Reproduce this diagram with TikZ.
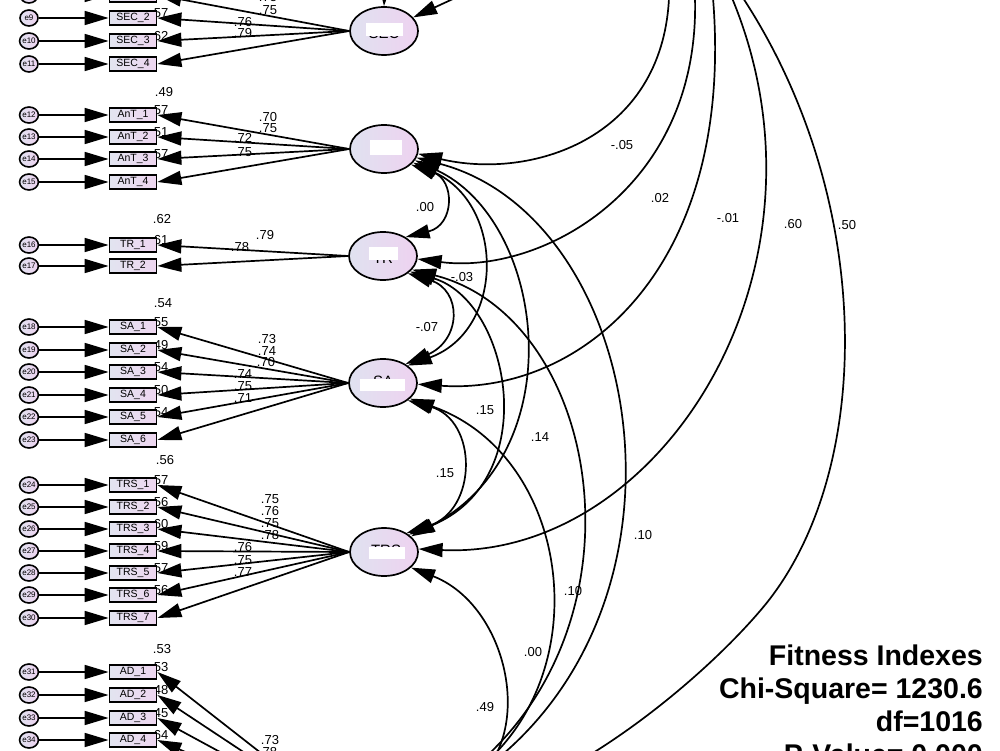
\documentclass[tikz,border=0pt]{standalone}
\usepackage{fontspec}
\setmainfont{Liberation Sans}
\usetikzlibrary{arrows.meta,shapes.geometric}
\definecolor{latL}{RGB}{224,226,240}
\definecolor{latR}{RGB}{238,210,240}
\definecolor{boxL}{RGB}{226,228,240}
\definecolor{boxR}{RGB}{238,214,240}
\begin{document}
\begin{tikzpicture}[x=1pt,y=-1pt,
  lat/.style={ellipse,draw=black,line width=1.7pt,left color=latL,right color=latR,minimum width=68pt,minimum height=48pt,inner sep=0pt},
  lattext/.style={font=\fontsize{15}{15}\selectfont,inner sep=0pt},
  obs/.style={rectangle,draw=black,line width=1.8pt,left color=boxL,right color=boxR,minimum width=47pt,minimum height=14pt,inner sep=0pt,font=\fontsize{10.5}{10.5}\selectfont},
  err/.style={ellipse,draw=black,line width=1.6pt,left color=latL,right color=latR,minimum width=18pt,minimum height=16pt,inner sep=0pt,font=\fontsize{8}{8}\selectfont},
  arr/.style={line width=1.7pt,-{Triangle[length=24pt,width=14pt]}},
  cov/.style={line width=1.7pt,{Triangle[length=24pt,width=14pt]}-{Triangle[length=24pt,width=14pt]}},
  num/.style={font=\fontsize{13}{13}\selectfont,inner sep=0pt},
  rsq/.style={num,anchor=west},
  fit/.style={font=\bfseries\fontsize{28.5}{28.5}\selectfont,inner sep=0pt,anchor=base east}
]
\useasboundingbox (0,0) rectangle (1000,751);
\fill[white] (0,0) rectangle (1000,751);

% latents
\node[lat] (SEC) at (384,31) {};
\node[lat] (AnT) at (384,149) {};
\node[lat] (TR) at (383,256) {};
\node[lat] (SA) at (383,383) {};
\node[lat] (TRS) at (384,552) {};
\node[lat] (AD) at (384,822) {};
\node[lattext] (tSEC) at (384,33) {SEC};
\node[lattext] (tAnT) at (385,148) {AnT};
\node[lattext] (tTR) at (383,258) {TR};
\node[lattext] (tSA) at (383,381) {SA};
\node[lattext] (tTRS) at (386,550) {TRS};

% r-square labels (drawn before arrows)
\foreach \y/\r in {18/.57,41/.62,115/.57,137/.51,159/.57,245/.61,327/.55,350/.49,372/.54,395/.50,417/.54,485/.57,507/.56,529/.60,551/.59,573/.57,595/.56,672/.53,695/.48,718/.45,740/.64}
  \node[rsq] at (150,\y-5) {\r};
\node[num] (h1) at (164,92) {.49};
\node[num] (h2) at (162,219) {.62};
\node[num] (h3) at (163,303) {.54};
\node[num] (h4) at (165,460) {.56};
\node[num] (h5) at (162,649) {.53};

% indicators and errors
\foreach \n/\t/\y in {8/SEC\_1/-5,9/SEC\_2/18,10/SEC\_3/41,11/SEC\_4/64,
  12/AnT\_1/115,13/AnT\_2/137,14/AnT\_3/159,15/AnT\_4/182,
  16/TR\_1/245,17/TR\_2/266,
  18/SA\_1/327,19/SA\_2/350,20/SA\_3/372,21/SA\_4/395,22/SA\_5/417,23/SA\_6/440,
  24/TRS\_1/485,25/TRS\_2/507,26/TRS\_3/529,27/TRS\_4/551,28/TRS\_5/573,29/TRS\_6/595,30/TRS\_7/618,
  31/AD\_1/672,32/AD\_2/695,33/AD\_3/718,34/AD\_4/740}{
  \node[err] (e\n) at (29,\y) {e\n};
  \node[obs] (b\n) at (133,\y) {\t};
  \draw[arr] (e\n) -- (b\n);
}

% loadings
\foreach \n in {8,...,11} \draw[arr] (SEC.west) -- (b\n.east);
\foreach \n in {12,...,15} \draw[arr] (AnT.west) -- (b\n.east);
\foreach \n in {16,17} \draw[arr] (TR.west) -- (b\n.east);
\foreach \n in {18,...,23} \draw[arr] (SA.west) -- (b\n.east);
\foreach \n in {24,...,30} \draw[arr] (TRS.west) -- (b\n.east);
\foreach \n in {31,...,34} \draw[arr] (AD.west) -- (b\n.east);

% loading labels
\foreach \x/\y/\v in {268/-3/.75,268/10/.75,243/22/.76,243/33/.79,
  268/117/.70,268/128/.75,243/138/.72,243/152/.75,
  265/235/.79,240/247/.78,
  267/339/.73,267/351/.74,266/362/.70,243/374/.74,243/386/.75,243/398/.71,
  270/499/.75,270/511/.76,270/523/.75,270/535/.78,243/547/.76,243/560/.75,243/572/.77,
  270/740/.73,268/752/.78}
  \node[num] at (\x,\y) {\v};

% white masks over latent names
\fill[white] (366,23) rectangle (403,36);
\fill[white] (370,140) rectangle (402,155);
\fill[white] (369,247) rectangle (398,260);
\fill[white] (360,379) rectangle (405,391);
\fill[white] (369,547) rectangle (405,559);

% arrows into SEC from above
\coordinate (s1) at (386,-40);
\coordinate (s2) at (468,-8);
\draw[arr] (s1) -- (SEC.north);
\draw[arr] (s2) -- (SEC.25);

% long covariances from above
\coordinate (ta) at (669,-2);
\coordinate (tb) at (695,-2);
\coordinate (tc) at (713,-2);
\coordinate (td) at (732,-2);
\coordinate (te) at (743,-2);
\draw[arr] (ta) .. controls (662,140) and (530,180) .. (AnT.-8);
\draw[arr] (tb) .. controls (700,190) and (540,275) .. (TR.-5);
\draw[arr] (tc) .. controls (735,270) and (580,395) .. (SA.-2);
\draw[arr] (td) .. controls (845,270) and (660,560) .. (TRS.5);
\draw[arr] (te) .. controls (875,200) and (875,470) .. (765,605) .. controls (705,678) and (560,800) .. (AD.10);

% covariances among latents
\draw[cov] (AnT.-30) .. controls (455,180) and (455,225) .. (TR.40);
\draw[cov] (AnT.-25) .. controls (505,205) and (505,330) .. (SA.35);
\draw[cov] (AnT.-20) .. controls (545,220) and (575,450) .. (TRS.30);
\draw[cov] (AnT.-15) .. controls (655,220) and (720,650) .. (AD.20);
\draw[cov] (TR.-35) .. controls (462,290) and (462,340) .. (SA.40);
\draw[cov] (TR.-30) .. controls (510,300) and (545,480) .. (TRS.35);
\draw[cov] (TR.-25) .. controls (610,320) and (660,660) .. (AD.25);
\draw[cov] (SA.-35) .. controls (478,420) and (478,510) .. (TRS.40);
\draw[cov] (SA.-30) .. controls (585,460) and (605,720) .. (AD.30);
\draw[cov] (TRS.-30) .. controls (520,610) and (545,780) .. (AD.35);

% covariance labels
\foreach \x/\y/\v in {622/145/-.05,660/198/.02,728/218/-.01,793/224/.60,847/225/.50,
  425/207/.00,462/277/-.03,427/327/-.07,485/410/.15,540/437/.14,445/473/.15,
  643/535/.10,573/591/.10,533/652/.00,485/707/.49}
  \node[num] at (\x,\y) {\v};

% fitness indexes
\node[fit] (f1) at (983,665) {Fitness Indexes};
\node[fit] (f2) at (983,698) {Chi-Square= 1230.6};
\node[fit] (f3) at (983,731) {df=1016};
\node[fit] (f4) at (983,764) {P-Value= 0.000};
\end{tikzpicture}
\end{document}
